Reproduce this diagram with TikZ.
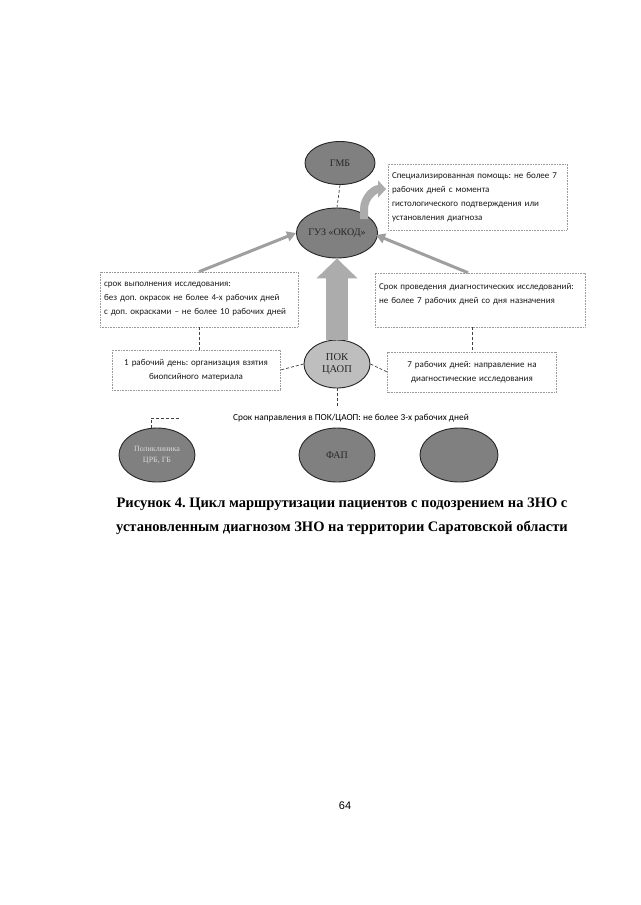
\documentclass[tikz,border=0pt]{standalone}
\usepackage{fontspec}
\setmainfont{Liberation Serif}
\newfontfamily\carlito{Carlito}
\newfontfamily\arialf{Liberation Sans}
\usetikzlibrary{arrows.meta,shapes.geometric,calc}
\definecolor{ellfill}{RGB}{128,128,128}
\definecolor{pokfill}{RGB}{190,190,190}
\tikzset{
  ell/.style={ellipse, draw=black!85, line width=0.9pt, fill=ellfill, inner sep=0pt, font=\fontsize{10}{11}\selectfont, text=black!85},
  txtbox/.style={draw=gray!80, densely dotted, line width=0.6pt, fill=white, font=\carlito\fontsize{9}{14}\selectfont, inner xsep=4pt, inner ysep=5pt, text=black!90},
  thinline/.style={draw=black!75, line width=0.7pt, densely dashed},
  grarrow/.style={draw=gray!75, line width=3pt, -{Triangle[length=9pt,width=10pt]}},
}
\begin{document}
\frenchspacing
\begin{tikzpicture}[x=1pt,y=-1pt]
\useasboundingbox[fill=white] (0,0) rectangle (640,905);

% ellipses
\node[ell, minimum width=70pt, minimum height=43pt] (gmb) at (340,163) {ГМБ};
\node[ell, minimum width=76pt, minimum height=50pt] (guz) at (337,233) {ГУЗ «ОКОД»};
\node[ell, fill=pokfill, minimum width=66pt, minimum height=48pt, align=center, font=\fontsize{10.5}{12}\selectfont] (pok) at (337,364) {ПОК\\ЦАОП};
\node[ell, minimum width=76pt, minimum height=54pt, align=center, text=gray!30, font=\fontsize{8}{11}\selectfont] (bl) at (157,455) {Поликлиника\\ЦРБ, ГБ};
\node[ell, minimum width=76pt, minimum height=54pt] (fap) at (337,455) {ФАП};
\node[ell, minimum width=78pt, minimum height=54pt] (br) at (459,455) {};

% boxes
\node[txtbox, text width=171pt, minimum height=66pt, align=left] (spec) at (477.5,197)
  {Специализированная помощь: не более 7\\рабочих дней с момента\\гистологического подтверждения или\\установления диагноза};
\node[txtbox, text width=190pt, minimum height=55pt, align=left] (lbox) at (199,299.5)
  {срок выполнения исследования:\\без доп. окрасок не более 4-х рабочих дней\\с доп. окрасками – не более 10 рабочих дней};
\node[txtbox, text width=202pt, minimum height=54pt, align=left] (rbox) at (480,300)
  {Срок проведения диагностических исследований:\\не более 7 рабочих дней со дня назначения\\~};
\node[txtbox, text width=160pt, minimum height=40pt, align=center] (lbox2) at (196,370)
  {1 рабочий день: организация взятия\\биопсийного материала};
\node[txtbox, text width=161pt, minimum height=40pt, align=center] (rbox2) at (472,372)
  {7 рабочих дней: направление на\\диагностические исследования};

% connectors
\draw[thinline] (gmb.south) -- (guz.north);
\draw[thinline] (lbox.south) -- (lbox.south |- lbox2.north);
\draw[thinline] (rbox.south -| rbox2.north) -- (rbox2.north);
\draw[thinline] (pok.west) -- (lbox2.east);
\draw[thinline] (pok.east) -- (rbox2.west);
\coordinate (pokdown) at (337,406);
\draw[thinline] (pok.south) -- (pokdown);
\node[font=\carlito\fontsize{9.3}{11}\selectfont, inner sep=0pt] (srok) at (351,418) {Срок направления в ПОК/ЦАОП: не более 3-х рабочих дней};
\coordinate (elb) at (181,418);
\draw[thinline] (bl.north -| 151,0) -- (151,418) -- (elb);

% gray arrows
\draw[grarrow] (lbox.north) -- (guz.west);
\draw[grarrow] ($(rbox.north)+(-12,0)$) -- ($(guz.east)+(-2,2)$);
\draw[draw=gray!65, line width=22pt, -{Triangle[length=20pt,width=40pt]}] (pok.north) -- (guz.south);
\draw[draw=gray!65, line width=8pt, -{Triangle[length=8pt,width=17pt]}] ($(guz.north east)+(-2,4)$) -- ++(0,-10) to[out=90,in=180] (386,189);

% caption
\node[font=\bfseries\fontsize{14.5}{24}\selectfont, align=center] (cap) at (342,516)
  {Рисунок 4. Цикл маршрутизации пациентов с подозрением на ЗНО с\\установленным диагнозом ЗНО на территории Саратовской области};
\node[font=\arialf\fontsize{11}{13}\selectfont] (pnum) at (345,806) {64};
\end{tikzpicture}
\end{document}
